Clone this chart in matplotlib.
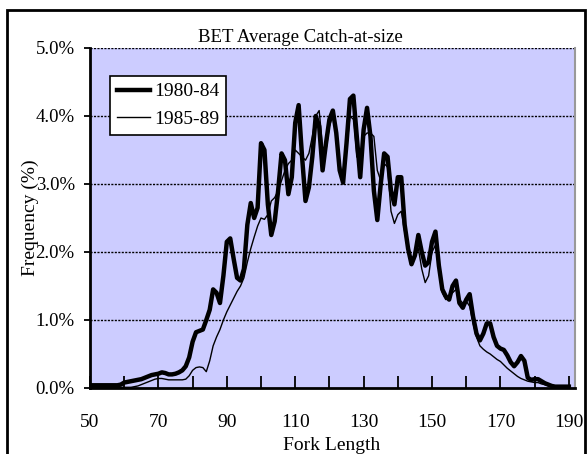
import matplotlib
matplotlib.use("Agg")
import matplotlib.pyplot as plt
from matplotlib.patches import Rectangle
from matplotlib.ticker import MultipleLocator, FuncFormatter

# fork length bins (cm)
lengths = list(range(50, 191))

# 1980-84 average catch-at-size, % frequency
freq_8084 = [
    0.04, 0.04, 0.04, 0.04, 0.04, 0.04, 0.04, 0.04, 0.04, 0.05,   # 50-59
    0.08, 0.09, 0.10, 0.11, 0.12, 0.13, 0.15, 0.17, 0.19, 0.20,   # 60-69
    0.21, 0.23, 0.22, 0.20, 0.20, 0.21, 0.23, 0.26, 0.32, 0.45,   # 70-79
    0.68, 0.82, 0.84, 0.86, 1.00, 1.15, 1.45, 1.40, 1.25, 1.65,   # 80-89
    2.15, 2.20, 1.90, 1.62, 1.58, 1.75, 2.40, 2.72, 2.50, 2.65,   # 90-99
    3.60, 3.50, 2.70, 2.25, 2.45, 2.90, 3.45, 3.35, 2.85, 3.10,   # 100-109
    3.90, 4.16, 3.40, 2.75, 2.95, 3.40, 4.00, 3.85, 3.20, 3.60,   # 110-119
    3.95, 4.08, 3.75, 3.20, 3.02, 3.60, 4.25, 4.30, 3.70, 3.10,   # 120-129
    3.80, 4.12, 3.70, 2.90, 2.47, 3.00, 3.45, 3.40, 2.90, 2.70,   # 130-139
    3.10, 3.10, 2.40, 2.05, 1.82, 1.95, 2.25, 2.00, 1.80, 1.85,   # 140-149
    2.15, 2.30, 1.80, 1.45, 1.35, 1.30, 1.50, 1.58, 1.25, 1.18,   # 150-159
    1.30, 1.38, 1.05, 0.80, 0.70, 0.80, 0.95, 0.95, 0.75, 0.62,   # 160-169
    0.58, 0.56, 0.48, 0.38, 0.32, 0.38, 0.47, 0.40, 0.15, 0.12,   # 170-179
    0.13, 0.13, 0.10, 0.07, 0.05, 0.03, 0.02, 0.02, 0.02, 0.02,   # 180-189
    0.02,                                                         # 190
]

# 1985-89 average catch-at-size, % frequency
freq_8589 = [
    0.01, 0.01, 0.01, 0.01, 0.01, 0.01, 0.01, 0.01, 0.01, 0.01,   # 50-59
    0.01, 0.01, 0.01, 0.02, 0.03, 0.05, 0.07, 0.09, 0.11, 0.13,   # 60-69
    0.14, 0.14, 0.13, 0.12, 0.12, 0.12, 0.12, 0.12, 0.13, 0.18,   # 70-79
    0.26, 0.30, 0.31, 0.30, 0.24, 0.40, 0.62, 0.75, 0.86, 1.00,   # 80-89
    1.12, 1.22, 1.32, 1.42, 1.50, 1.62, 1.85, 2.05, 2.22, 2.38,   # 90-99
    2.50, 2.48, 2.55, 2.75, 2.80, 2.90, 3.05, 3.20, 3.30, 3.35,   # 100-109
    3.50, 3.45, 3.40, 3.35, 3.45, 3.70, 4.00, 4.08, 3.55, 3.50,   # 110-119
    3.85, 4.00, 3.75, 3.30, 3.10, 3.50, 4.00, 3.95, 3.40, 3.35,   # 120-129
    3.70, 3.75, 3.75, 3.70, 3.20, 3.05, 3.30, 3.25, 2.60, 2.42,   # 130-139
    2.55, 2.60, 2.30, 2.00, 1.90, 1.95, 2.05, 1.75, 1.55, 1.65,   # 140-149
    2.00, 2.10, 1.80, 1.40, 1.30, 1.35, 1.40, 1.45, 1.30, 1.25,   # 150-159
    1.28, 1.20, 0.95, 0.75, 0.62, 0.57, 0.53, 0.50, 0.46, 0.42,   # 160-169
    0.39, 0.34, 0.29, 0.25, 0.21, 0.17, 0.14, 0.12, 0.10, 0.09,   # 170-179
    0.08, 0.08, 0.06, 0.05, 0.03, 0.02, 0.01, 0.01, 0.01, 0.01,   # 180-189
    0.01,                                                         # 190
]

series_labels = ["1980-84", "1985-89"]
y_ticks = [0, 1, 2, 3, 4, 5]

FONT = "Liberation Serif"
W, H = 588, 454
AX_W, AX_H = 485, 340

fig = plt.figure(figsize=(W / 100, H / 100), dpi=100)
ax = fig.add_axes([90 / W, 1 - 388 / H, AX_W / W, AX_H / H])
ax.set_facecolor("#CCCCFF")

ax.plot(lengths, freq_8084, color="black", linewidth=3.2, solid_joinstyle="round",
        label=series_labels[0], zorder=3)
ax.plot(lengths, freq_8589, color="black", linewidth=1.0, label=series_labels[1], zorder=4)

ax.set_xlim(50, 191.8)
ax.set_ylim(0, 5)

# dotted gridlines
for yv in y_ticks[1:]:
    ax.axhline(yv, color="black", linewidth=1.0, linestyle=(0, (1.5, 1)), zorder=1)

ax.xaxis.set_major_locator(MultipleLocator(10))
ax.xaxis.set_major_formatter(FuncFormatter(lambda v, p: f"{int(v)}" if int(round(v)) % 20 == 10 else ""))
ax.tick_params(axis="x", direction="in", length=9, width=1.3, pad=19, labelsize=14)
ax.set_yticks(y_ticks)
ax.set_yticklabels([f"{v:.1f}%" for v in y_ticks])
ax.tick_params(axis="y", direction="out", length=4, width=1.3, pad=7, labelsize=13.5)
for lab in ax.get_xticklabels() + ax.get_yticklabels():
    lab.set_family(FONT)

for s in ("left", "bottom"):
    ax.spines[s].set_linewidth(2)
ax.spines["top"].set_visible(False)
ax.spines["right"].set_color("#999999")
ax.spines["right"].set_linewidth(1.5)

ax.set_xlabel("Fork Length", family=FONT, fontsize=14)
ax.xaxis.set_label_coords((332 - 90) / AX_W, (388 - 446) / AX_H)
ax.xaxis.label.set_va("center")
ax.set_ylabel("Frequency (%)", family=FONT, fontsize=14)
ax.yaxis.set_label_coords((30 - 90) / AX_W, 0.5)
ax.yaxis.label.set_va("center")

fig.text(300 / W, 1 - 37 / H, "BET Average Catch-at-size", family=FONT, fontsize=13.5,
         ha="center", va="center")

leg = ax.legend(loc="upper left", bbox_to_anchor=(20 / AX_W, 1 - 28 / AX_H), fancybox=False,
                framealpha=1, edgecolor="black", handlelength=1.7, borderpad=0.35,
                labelspacing=0.5, handletextpad=0.2, borderaxespad=0,
                prop={"family": FONT, "size": 14})
leg.get_frame().set_linewidth(1.2)

# outer chart border
fig.patches.append(Rectangle((7 / W, -0.01), 578 / W, 1 - 10 / H + 0.01, transform=fig.transFigure,
                             fill=False, edgecolor="black", linewidth=2))

fig.savefig("out.png", dpi=100)
